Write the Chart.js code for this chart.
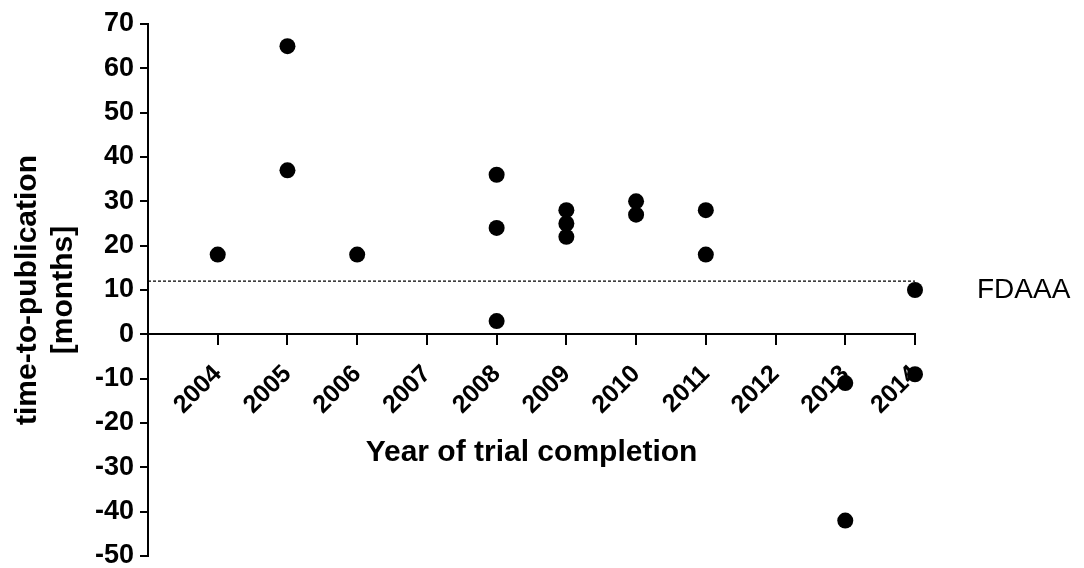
<!DOCTYPE html>
<html>
<head>
<meta charset="utf-8">
<script src="https://cdn.jsdelivr.net/npm/chart.js@4"></script>
<style>
  html,body{margin:0;padding:0;background:#fff;}
</style>
</head>
<body>
<canvas id="c" width="1084" height="568"></canvas>
<script>
// trial completion year and time-to-publication for each trial
let years  = [2004, 2005, 2005, 2006, 2008, 2008, 2008, 2009, 2009, 2009, 2010, 2010, 2011, 2011, 2013, 2013, 2014, 2014];
let months = [18, 65, 37, 18, 36, 24, 3, 28, 25, 22, 30, 27, 28, 18, -11, -42, 10, -9];
let yearTicks = [2004, 2005, 2006, 2007, 2008, 2009, 2010, 2011, 2012, 2013, 2014];
let fdaaa = 12;

let font = "'Liberation Sans', Arial, sans-serif";

let points = years.map((y, i) => ({x: y, y: months[i]}));

let extraText = {
  id: "extraText",
  afterDraw(chart){
    let ctx = chart.ctx;
    let xs = chart.scales.x, ys = chart.scales.y;
    ctx.save();
    ctx.fillStyle = "#000";
    ctx.font = "bold 30px " + font;
    ctx.textAlign = "center";
    ctx.textBaseline = "middle";
    ctx.fillText("Year of trial completion", (xs.left + xs.right) / 2, ys.getPixelForValue(0) + 118);
    ctx.font = "28px " + font;
    ctx.textAlign = "left";
    ctx.fillText("FDAAA", xs.right + 62, ys.getPixelForValue(fdaaa) + 9);
    ctx.restore();
  }
};

new Chart(document.getElementById("c"), {
  type: "scatter",
  data: {
    datasets: [
      {
        data: points,
        pointRadius: 8,
        pointHoverRadius: 8,
        backgroundColor: "#000",
        borderWidth: 0,
        clip: false
      },
      {
        type: "line",
        data: [{x: 2003, y: fdaaa}, {x: 2014, y: fdaaa}],
        borderColor: "#000",
        borderWidth: 1.2,
        borderDash: [3, 2],
        pointRadius: 0
      }
    ]
  },
  options: {
    responsive: false,
    animation: false,
    maintainAspectRatio: false,
    layout: {padding: {left: 0, right: 169, top: 24, bottom: 12}},
    plugins: {legend: {display: false}, tooltip: {enabled: false}},
    scales: {
      x: {
        type: "linear",
        position: {y: 0},
        min: 2003,
        max: 2014,
        afterBuildTicks: s => { s.ticks = yearTicks.map(v => ({value: v})); },
        afterFit: s => { s.height = 0; s.paddingLeft = 0; s.paddingRight = 0; },
        ticks: {
          color: "#000",
          font: {family: font, size: 25, weight: "bold"},
          minRotation: 45,
          maxRotation: 45,
          autoSkip: false,
          padding: 15,
          callback: v => String(v)
        },
        grid: {drawOnChartArea: false, drawTicks: true, tickLength: 10, color: "#000", lineWidth: 2},
        border: {display: true, color: "#000", width: 2}
      },
      y: {
        min: -50,
        max: 70,
        afterFit: s => { s.width = 148; s.paddingTop = 0; s.paddingBottom = 0; },
        ticks: {
          stepSize: 10,
          color: "#000",
          font: {family: font, size: 27, weight: "bold"},
          padding: 6
        },
        grid: {drawOnChartArea: false, drawTicks: true, tickLength: 8, color: "#000", lineWidth: 2},
        border: {display: true, color: "#000", width: 2},
        title: {
          display: true,
          text: ["time-to-publication", "[months]"],
          color: "#000",
          font: {family: font, size: 30, weight: "bold", lineHeight: 1.2},
          padding: {top: 10, bottom: 0}
        }
      }
    }
  },
  plugins: [extraText]
});
</script>
</body>
</html>
